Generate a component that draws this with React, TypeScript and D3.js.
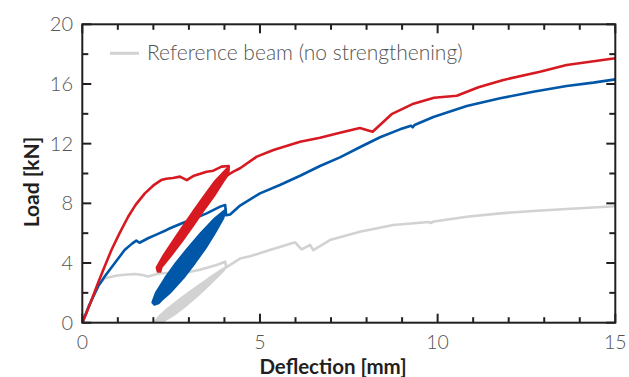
import { useEffect, useRef } from "react"
import * as d3 from "d3"

type Pt = [number, number]

// envelope curves: [deflection mm, load kN]
const referenceBeam: Pt[] = [
  [0, 0], [0.2, 1.2], [0.44, 2.5], [0.63, 2.98], [0.91, 3.13], [1.1, 3.2], [1.47, 3.26],
  [1.7, 3.2], [1.85, 3.1], [2.0, 3.2], [2.19, 3.31], [2.75, 3.35], [3.0, 3.4], [3.31, 3.55],
  [3.78, 3.87], [4.02, 4.09], [4.05, 3.71], [4.44, 4.3], [4.72, 4.45], [5.28, 4.87],
  [5.99, 5.39], [6.17, 4.92], [6.41, 5.21], [6.5, 4.87], [6.97, 5.54], [7.81, 6.1],
  [8.75, 6.55], [9.75, 6.75], [9.8, 6.68], [9.9, 6.78], [10.82, 7.1], [11.76, 7.33],
  [12.69, 7.49], [13.63, 7.62], [15, 7.8],
]

const blueBeam: Pt[] = [
  [0, 0], [0.2, 1.2], [0.45, 2.45], [0.63, 3.1], [0.91, 3.98], [1.19, 4.87], [1.4, 5.3],
  [1.52, 5.5], [1.61, 5.36], [1.85, 5.66], [2.13, 5.95], [2.36, 6.2], [2.47, 6.33],
  [2.84, 6.7], [3.12, 6.95], [3.5, 7.33], [3.88, 7.78], [4.02, 7.89], [4.05, 7.2],
  [4.16, 7.25], [4.44, 7.85], [5.0, 8.67], [5.56, 9.23], [6.13, 9.85], [6.69, 10.5],
  [7.25, 11.08], [7.81, 11.76], [8.38, 12.43], [8.94, 12.96], [9.25, 13.2], [9.3, 13.1],
  [9.35, 13.25], [9.88, 13.79], [10.82, 14.52], [11.76, 15.04], [12.69, 15.48],
  [13.63, 15.87], [14.38, 16.09], [15, 16.31],
]

const redBeam: Pt[] = [
  [0, 0], [0.1, 0.55], [0.25, 1.45], [0.44, 2.64], [0.6, 3.6], [0.82, 4.87], [1.05, 6.0],
  [1.29, 7.1], [1.5, 7.9], [1.76, 8.67], [2.0, 9.2], [2.22, 9.56], [2.36, 9.65],
  [2.55, 9.7], [2.75, 9.79], [2.94, 9.56], [3.12, 9.83], [3.5, 10.12], [3.69, 10.19],
  [3.92, 10.46], [4.12, 10.5], [4.1, 9.9], [4.25, 10.12], [4.44, 10.35], [4.91, 11.13],
  [5.38, 11.57], [6.13, 12.13], [6.69, 12.4], [7.25, 12.73], [7.81, 13.05], [8.17, 12.8],
  [8.72, 14.0], [9.32, 14.68], [9.9, 15.08], [10.54, 15.21], [11.15, 15.78],
  [11.85, 16.27], [12.88, 16.82], [13.63, 17.27], [14.29, 17.49], [15, 17.72],
]

// cyclic loading bands (outline of the unload / reload loops)
const referenceLoop: Pt[] = [
  [4.06, 3.75], [3.88, 3.5], [3.57, 3], [3.28, 2.5], [2.98, 2], [2.7, 1.5], [2.43, 1],
  [2.19, 0.5], [2.02, 0], [2.22, 0], [2.57, 0.5], [2.85, 1], [3.1, 1.5], [3.34, 2],
  [3.56, 2.5], [3.77, 3], [3.98, 3.5],
]

const blueLoop: Pt[] = [
  [4.04, 7.6], [3.73, 7], [3.33, 6], [2.97, 5], [2.63, 4], [2.33, 3], [2.07, 2], [1.99, 1.5],
  [1.97, 1.35], [2.03, 1.2], [2.15, 1.3], [2.23, 1.5], [2.47, 2], [2.85, 3], [3.17, 4],
  [3.47, 5], [3.73, 6], [3.97, 7],
]

const redLoop: Pt[] = [
  [4.12, 10.46], [3.74, 9.5], [3.43, 8.5], [3.13, 7.5], [2.84, 6.5], [2.56, 5.5],
  [2.28, 4.5], [2.09, 3.7], [2.12, 3.42], [2.2, 3.42], [2.23, 3.7], [2.5, 4.5],
  [2.82, 5.5], [3.12, 6.5], [3.41, 7.5], [3.71, 8.5], [3.98, 9.5], [4.1, 9.9],
]

const xMajor = [0, 5, 10, 15]
const xMinor = d3.range(0, 16, 1)
const yMajor = [0, 4, 8, 12, 16, 20]
const yMinor = d3.range(0, 21, 2)

const legendLabel = "Reference beam (no strengthening)"

const RED = "#d71a21"
const BLUE = "#0057a8"
const GRAY = "#d2d2d2"
const AXIS = "#231f20"
const FONT = "Lato, 'Open Sans', sans-serif"

export default function App() {
  const svgRef = useRef<SVGSVGElement>(null)

  useEffect(() => {
    if (!svgRef.current) return
    const root = d3.select(svgRef.current)
    root.selectAll("*").remove()

    const left = 82.3, right = 615.3, top = 24.3, bottom = 322.7

    const x = d3.scaleLinear().domain([0, 15]).range([left, right])
    const y = d3.scaleLinear().domain([0, 20]).range([bottom, top])

    root.append("defs").append("clipPath").attr("id", "plot")
      .append("rect")
      .attr("x", left).attr("y", top)
      .attr("width", right - left).attr("height", bottom - top)

    const line = d3.line<Pt>().x(d => x(d[0])).y(d => y(d[1]))
    const plot = root.append("g").attr("clip-path", "url(#plot)")

    // loops first, envelopes on top
    const loops: [Pt[], string][] = [[referenceLoop, GRAY], [blueLoop, BLUE], [redLoop, RED]]
    const curves: [Pt[], string][] = [[referenceBeam, GRAY], [blueBeam, BLUE], [redBeam, RED]]

    curves.forEach(([data, color], i) => {
      const [loop, lc] = loops[i]
      plot.append("path")
        .datum(loop)
        .attr("d", d => line(d) + "Z")
        .attr("fill", lc)
        .attr("stroke", lc)
        .attr("stroke-width", 2)
        .attr("stroke-linejoin", "round")
      plot.append("path")
        .datum(data)
        .attr("d", line)
        .attr("fill", "none")
        .attr("stroke", color)
        .attr("stroke-width", 2.6)
        .attr("stroke-linejoin", "round")
    })

    // frame
    root.append("rect")
      .attr("x", left).attr("y", top)
      .attr("width", right - left).attr("height", bottom - top)
      .attr("fill", "none").attr("stroke", AXIS).attr("stroke-width", 2)

    const ticks = root.append("g").attr("stroke", AXIS).attr("stroke-width", 2)
    xMinor.forEach(v => {
      const len = xMajor.includes(v) ? 9 : 5.5
      ticks.append("line").attr("x1", x(v)).attr("x2", x(v)).attr("y1", bottom).attr("y2", bottom - len)
      ticks.append("line").attr("x1", x(v)).attr("x2", x(v)).attr("y1", top).attr("y2", top + len)
    })
    yMinor.forEach(v => {
      const len = yMajor.includes(v) ? 9 : 6
      ticks.append("line").attr("y1", y(v)).attr("y2", y(v)).attr("x1", left).attr("x2", left + len)
      ticks.append("line").attr("y1", y(v)).attr("y2", y(v)).attr("x1", right).attr("x2", right - len)
    })

    // tick labels
    root.append("g").selectAll("text")
      .data(xMajor).enter().append("text")
      .attr("x", d => x(d)).attr("y", 349)
      .attr("text-anchor", "middle")
      .style("font-family", FONT).style("font-weight", 300)
      .style("font-size", "19.5px").style("fill", "#555")
      .text(d => d)

    root.append("g").selectAll("text")
      .data(yMajor).enter().append("text")
      .attr("x", 73).attr("y", d => y(d) + 7)
      .attr("text-anchor", "end")
      .style("font-family", FONT).style("font-weight", 300)
      .style("font-size", "20px").style("fill", "#555")
      .text(d => d)

    // axis titles
    root.append("text")
      .attr("x", 333).attr("y", 373.5)
      .attr("text-anchor", "middle")
      .style("font-family", FONT).style("font-weight", 700)
      .style("font-size", "20.5px").style("fill", AXIS)
      .text("Deflection [mm]")

    root.append("text")
      .attr("transform", "translate(39,182) rotate(-90)")
      .attr("text-anchor", "middle")
      .style("font-family", FONT).style("font-weight", 700)
      .style("font-size", "21px").style("fill", AXIS)
      .text("Load [kN]")

    // legend
    root.append("line")
      .attr("x1", 110).attr("x2", 139).attr("y1", 53.3).attr("y2", 53.3)
      .attr("stroke", GRAY).attr("stroke-width", 3)
    root.append("text")
      .attr("x", 147).attr("y", 60)
      .style("font-family", FONT).style("font-weight", 300)
      .style("font-size", "21px").style("fill", "#555")
      .text(legendLabel)
  }, [])

  return (
    <svg
      ref={svgRef}
      width={629}
      height={377}
      style={{ position: "absolute", left: 0, top: 0, background: "#fff" }}
    />
  )
}
